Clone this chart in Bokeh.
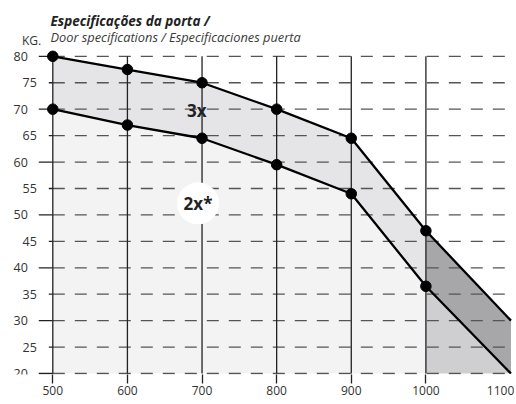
from bokeh.plotting import figure
from bokeh.models import FixedTicker, Range1d
from bokeh.core.properties import value
from bokeh.embed import file_html
from bokeh.resources import INLINE

# ---- data ----
widths = [500, 600, 700, 800, 900, 1000]          # door width, mm
upper_3x = [80, 77.5, 75, 70, 64.5, 47]           # kg, 3 hinges limit
lower_2x = [70, 67, 64.5, 59.5, 54, 36.5]         # kg, 2 hinges limit
end_width = 1114
upper_end = 30
lower_end = 20
y_floor = 20
y_top = 80
y_major = [20, 30, 40, 50, 60, 70, 80]
y_minor = [25, 35, 45, 55, 65, 75]
x_ticks = [500, 600, 700, 800, 900, 1000, 1100]
x_tick_marks = [500, 600, 700, 800, 900, 1000]
label_3x = ["3x"]
label_3x_x = [693]
label_3x_y = [69.7]
label_2x = ["2x*"]
label_2x_x = [694.6]
label_2x_y = [52.2]
title_1 = "Especificações da porta /"
title_2 = "Door specifications / Especificaciones puerta"
unit_label = "KG."

FONT = "Open Sans"
TXT = "#333333"
LINE = "#222222"

# ---- layout (pixels) ----
FW, FH = 514, 374               # frame size
SX = 0.7462                     # px per mm
SY = 5.287                      # px per kg
X0 = 500 - 52.3 / SX            # data x at frame left
Y1 = 80 + 55.8 / SY             # data y at frame top


def xs(px):
    return X0 + px / SX


def ys(py):
    return Y1 - py / SY


p = figure(frame_width=FW, frame_height=FH,
           x_range=Range1d(X0, X0 + FW / SX), y_range=Range1d(Y1 - FH / SY, Y1),
           output_backend="svg", toolbar_location=None,
           y_axis_location=None,
           min_border_left=0, min_border_right=0, min_border_top=0, min_border_bottom=28)
p.outline_line_color = None
p.grid.visible = False
p.background_fill_color = "white"
p.border_fill_color = "white"

# ---- fills ----
p.varea(x=widths, y1=[y_floor] * len(widths), y2=lower_2x, fill_color="#f3f3f3")
p.varea(x=widths, y1=lower_2x, y2=upper_3x, fill_color="#e5e5e7")
p.varea(x=[widths[-1], end_width], y1=[y_floor, y_floor], y2=[lower_2x[-1], lower_end], fill_color="#cfcfd1")
p.varea(x=[widths[-1], end_width], y1=[lower_2x[-1], lower_end], y2=[upper_3x[-1], upper_end], fill_color="#a7a7a9")

# ---- dashed horizontal grid ----
grid_vals = sorted(y_major + y_minor)
p.segment(x0=[widths[0]] * len(grid_vals), x1=[end_width] * len(grid_vals), y0=grid_vals, y1=grid_vals,
          line_color="#555555", line_width=1.3, line_dash="12 10")

# ---- vertical lines + y axis line ----
p.segment(x0=widths, x1=widths, y0=[y_floor] * len(widths), y1=[y_top] * len(widths),
          line_color=LINE, line_width=1.3)

# ---- y axis ticks and labels ----
p.segment(x0=[widths[0] - 14 / SX] * len(y_major), x1=[widths[0]] * len(y_major),
          y0=y_major, y1=y_major, line_color=LINE, line_width=1.3)
p.segment(x0=[widths[0] - 4 / SX] * len(y_minor), x1=[widths[0]] * len(y_minor),
          y0=y_minor, y1=y_minor, line_color=LINE, line_width=1.3)
p.text(x=[widths[0]] * len(y_major), y=y_major, text=[str(v) for v in y_major],
       x_offset=-25, text_align="right", text_baseline="middle",
       text_font=value(FONT), text_font_size="12.5px", text_color=TXT)
p.text(x=[widths[0]] * len(y_minor), y=y_minor, text=[str(v) for v in y_minor],
       x_offset=-16, text_align="right", text_baseline="middle",
       text_font=value(FONT), text_font_size="12.5px", text_color=TXT)

# ---- limit lines ----
p.line(widths + [end_width], upper_3x + [upper_end], line_color="black", line_width=2.3)
p.line(widths + [end_width], lower_2x + [lower_end], line_color="black", line_width=2.3)
p.scatter(widths, upper_3x, size=10.5, color="black")
p.scatter(widths, lower_2x, size=10.5, color="black")

# ---- region labels ----
p.text(x=label_3x_x, y=label_3x_y, text=label_3x, text_font=value(FONT), text_font_style="bold",
       text_font_size="17px", text_align="center", text_baseline="middle", text_color="#222222")
p.scatter(x=label_2x_x, y=label_2x_y, size=42, fill_color="white", line_color=None)
p.text(x=label_2x_x, y=label_2x_y, text=label_2x, text_font=value(FONT), text_font_style="bold",
       text_font_size="17px", text_align="center", text_baseline="middle", text_color="#222222")

# ---- header texts ----
p.text(x=[xs(50)], y=[ys(20.7)], text=[title_1], text_font=value(FONT), text_font_style="bold italic",
       text_font_size="13.5px", text_baseline="alphabetic", text_color="#222222")
p.text(x=[xs(50)], y=[ys(36.7)], text=[title_2], text_font=value(FONT), text_font_style="italic",
       text_font_size="12.8px", text_baseline="alphabetic", text_color="#3a3a3a")
p.text(x=[xs(21.5)], y=[ys(40)], text=[unit_label], text_font=value(FONT),
       text_font_size="12px", text_baseline="alphabetic", text_color=TXT)

# ---- x axis ----
xa = p.xaxis[0]
xa.ticker = FixedTicker(ticks=x_ticks, minor_ticks=x_tick_marks)
xa.axis_line_color = None
xa.major_tick_out = 0
xa.major_tick_in = 0
xa.minor_tick_out = 9
xa.minor_tick_in = 0
xa.minor_tick_line_color = LINE
xa.minor_tick_line_width = 1.3
xa.major_label_standoff = 2
xa.major_label_text_font = FONT
xa.major_label_text_font_size = "12px"
xa.major_label_text_color = TXT

open("out.html", "w").write(file_html(p, INLINE))
